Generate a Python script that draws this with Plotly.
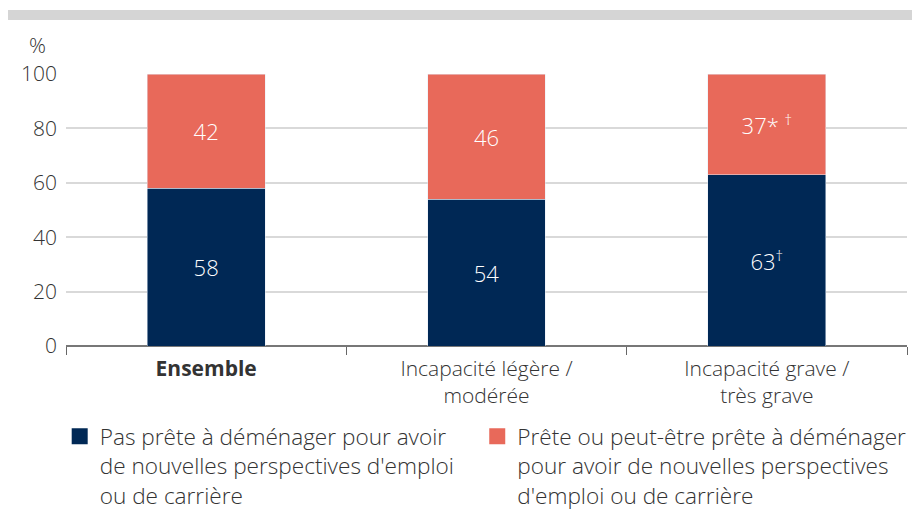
import plotly.graph_objects as go

categories = ["<b>Ensemble</b>", "Incapacité légère /<br>modérée", "Incapacité grave /<br>très grave"]
not_ready = [58, 54, 63]
ready = [42, 46, 37]
not_ready_labels = ["58", "54", "63<sup>†</sup>"]
ready_labels = ["42", "46", "37* <sup>†</sup>"]
series_names = [
    "Pas prête à déménager pour avoir<br>de nouvelles perspectives d'emploi<br>ou de carrière",
    "Prête ou peut-être prête à déménager<br>pour avoir de nouvelles perspectives<br>d'emploi ou de carrière",
]
y_ticks = [0, 20, 40, 60, 80, 100]

NAVY = "#002855"
CORAL = "#E8695A"
FONT = "Open Sans"
TXT = "#333333"

fig = go.Figure()
fig.add_trace(go.Bar(
    x=categories, y=not_ready, name=series_names[0], marker_color=NAVY,
    text=not_ready_labels, textposition="inside", insidetextanchor="middle",
    textfont=dict(color="white", size=22, family=FONT, weight=300), width=0.42,
    showlegend=False,
))
fig.add_trace(go.Bar(
    x=categories, y=ready, name=series_names[1], marker_color=CORAL,
    text=ready_labels, textposition="inside", insidetextanchor="middle",
    textfont=dict(color="white", size=22, family=FONT, weight=300), width=0.42,
    showlegend=False,
))
# legend entries (square markers), one legend box per series
for name, col, lg in zip(series_names, [NAVY, CORAL], ["legend", "legend2"]):
    fig.add_trace(go.Scatter(
        x=[None], y=[None], mode="markers", name=name, legend=lg,
        marker=dict(symbol="square", size=16, color=col),
    ))

legend_common = dict(
    orientation="h", yanchor="bottom", y=-0.629,
    font=dict(size=22.6, color=TXT, weight=300, family=FONT),
    valign="top", itemclick=False, bgcolor="rgba(0,0,0,0)",
)

fig.update_layout(
    barmode="stack",
    width=912, height=504,
    margin=dict(l=58, r=13, t=66, b=166, autoexpand=False),
    plot_bgcolor="white", paper_bgcolor="white",
    font=dict(family=FONT, size=21, color=TXT, weight=300),
    uniformtext=dict(mode="show", minsize=22),
    legend=dict(x=-0.0075, xanchor="left", **legend_common),
    legend2=dict(x=0.489, xanchor="left", **legend_common),
    xaxis=dict(
        showgrid=False, ticks="outside", tickson="boundaries", ticklen=8,
        tickcolor="#666666", showline=False, automargin=False, ticklabelstandoff=8,
        tickfont=dict(size=21, color=TXT, weight=300),
    ),
    yaxis=dict(
        range=[0, 100], tickvals=y_ticks, showgrid=True, gridcolor="#d9d9d9",
        gridwidth=1.5, zeroline=True, zerolinecolor="#777777", zerolinewidth=1.5,
        ticks="", ticklabelstandoff=8, automargin=False,
        tickfont=dict(size=21, color=TXT, weight=300),
    ),
    shapes=[dict(
        type="rect", xref="paper", yref="paper",
        x0=-0.069, x1=1.016, y0=1.1985, y1=1.235,
        fillcolor="#d5d5d5", line_width=0, layer="below",
    )],
    annotations=[dict(
        text="%", xref="paper", yref="paper", x=-0.034, y=1.107,
        xanchor="center", yanchor="middle", showarrow=False,
        font=dict(size=21, color=TXT, weight=300),
    )],
)

fig.write_html("out.html")
